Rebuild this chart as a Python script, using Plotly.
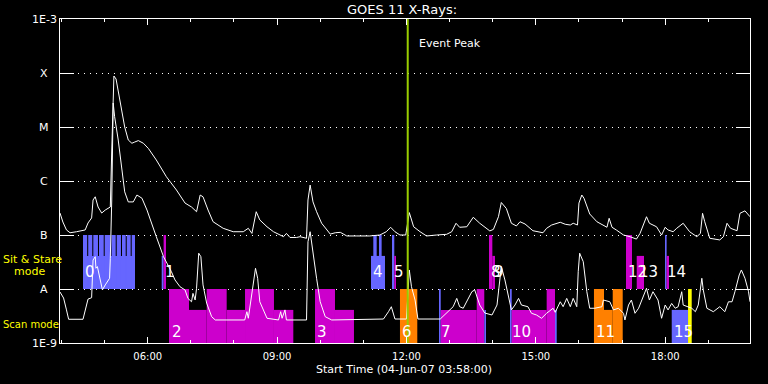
import plotly.graph_objects as go
import numpy as np

DAY = "2007-06-04 "

# ---- GOES 1-8 A (upper) light curve ----
upper_time = ["03:58","04:02","04:07","04:12","04:21","04:33","04:37","04:42","04:44","04:47",
              "04:51","04:56","05:01","05:08","05:10","05:12","05:13","05:16","05:21","05:28",
              "05:33","05:38","05:42","05:47","05:54","06:01","06:12","06:26","06:40","06:52",
              "07:01","07:08","07:13","07:17","07:24","07:31","07:45","07:59","08:13","08:20",
              "08:25","08:31","08:36","08:46","08:55","09:04","09:09","09:13","09:18","09:27",
              "09:32","09:41","09:43","09:46","09:48","09:50","09:55","10:02","10:14","10:21",
              "10:28","10:32","10:37","10:51","11:09","11:23","11:32","11:38","11:44","11:51",
              "11:59","12:04","12:10","12:19","12:28","12:42","12:56","13:03","13:09","13:14",
              "13:24","13:33","13:42","13:56","14:01","14:08","14:12","14:19","14:26","14:33",
              "14:38","14:45","14:56","15:10","15:15","15:22","15:34","15:41","15:48","15:52",
              "15:58","16:00","16:04","16:07","16:15","16:25","16:39","16:42","16:46","16:52",
              "17:02","17:11","17:20","17:25","17:34","17:38","17:48","17:55","18:00","18:04",
              "18:11","18:16","18:25","18:34","18:44","18:49","18:52","18:55","19:02","19:16",
              "19:21","19:26","19:31","19:40","19:44","19:51","19:58"]
upper_flux = [2.55e-7,1.74e-7,1.24e-7,1.10e-7,1.15e-7,1.24e-7,1.67e-7,2.07e-7,4.45e-7,5.1e-7,
              3.3e-7,2.55e-7,2.9e-7,3.3e-7,3.75e-6,4.84e-5,8.8e-5,7.74e-5,3.16e-5,1.0e-5,
              5.74e-6,5.0e-6,5.27e-6,5.6e-6,5.0e-6,4.0e-6,2.45e-6,1.2e-6,6.81e-7,3.9e-7,
              3.3e-7,2.7e-7,5.5e-7,5.1e-7,2.9e-7,1.76e-7,1.33e-7,1.15e-7,1.15e-7,1.33e-7,
              1.07e-7,2.7e-7,1.9e-7,1.42e-7,1.15e-7,1.0e-7,9.3e-8,1.07e-7,9.0e-8,9.0e-8,
              9.3e-8,8.7e-8,4.45e-7,8.4e-7,5.9e-7,4.1e-7,2.7e-7,1.65e-7,1.04e-7,1.1e-7,
              1.12e-7,1.03e-7,9.6e-8,9.6e-8,9.6e-8,1.0e-7,1.15e-7,1.39e-7,1.15e-7,1.0e-7,
              1.0e-7,2.6e-7,1.42e-7,1.15e-7,9.6e-8,1.0e-7,1.03e-7,1.15e-7,1.65e-7,1.39e-7,
              1.42e-7,2.13e-7,1.65e-7,1.19e-7,1.27e-7,2.18e-7,4.0e-7,3.1e-7,1.65e-7,1.47e-7,
              1.76e-7,1.6e-7,1.2e-7,1.1e-7,1.33e-7,1.53e-7,1.72e-7,1.58e-7,1.53e-7,1.65e-7,
              1.53e-7,3.9e-7,5.5e-7,4.8e-7,2.45e-7,1.76e-7,1.39e-7,2.04e-7,1.39e-7,1.24e-7,
              1.0e-7,9.3e-8,8.4e-8,1.07e-7,2.18e-7,1.65e-7,1.42e-7,1.0e-7,1.39e-7,1.24e-7,
              1.15e-7,1.33e-7,1.65e-7,1.15e-7,9.3e-8,1.07e-7,2.52e-7,1.76e-7,8.7e-8,8.1e-8,
              9.3e-8,1.65e-7,1.33e-7,1.2e-7,2.52e-7,2.8e-7,2.18e-7]

# ---- GOES 0.5-4 A (lower) light curve ----
lower_time = ["03:58","04:03","04:07","04:10","04:30","04:35","04:37","04:42","04:43","04:44",
              "04:47","04:48","04:50","04:54","04:57","05:01","05:07","05:08","05:10","05:12",
              "05:14","05:19","05:24","05:28","05:33","05:40","05:45","05:52","05:59","06:06",
              "06:12","06:22","06:26","06:33","06:38","06:45","06:52","06:56","07:01","07:03",
              "07:06","07:08","07:11","07:14","07:17","07:22","07:29","07:34","08:15","08:18",
              "08:20","08:27","08:30","08:33","08:36","08:46","09:02","09:05","09:07","09:11",
              "09:13","09:41","09:43","09:46","09:50","09:55","10:00","10:07","10:16","11:28",
              "11:35","11:39","11:44","12:00","12:04","12:07","12:12","12:16","12:47","13:05",
              "13:10","13:14","13:19","13:24","13:31","13:35","13:42","13:49","13:59","14:06",
              "14:08","14:12","14:17","14:22","14:26","14:31","14:36","14:40","14:49","14:54",
              "15:01","15:08","15:15","15:24","15:27","15:34","15:38","15:43","15:48","15:52",
              "15:57","15:59","16:01","16:06","16:11","16:15","16:22","16:32","16:34","16:43",
              "16:48","16:55","17:02","17:04","17:09","17:13","17:18","17:23","17:30","17:34",
              "17:38","17:43","17:50","17:55","18:00","18:04","18:09","18:14","18:18","18:23",
              "18:25","18:32","18:37","18:42","18:46","18:51","18:53","18:58","19:07","19:16",
              "19:23","19:28","19:33","19:37","19:43","19:46","19:51","19:56","19:58"]
lower_flux = [8.8e-9,6.8e-9,4.1e-9,2.75e-9,2.75e-9,5.05e-9,6.5e-9,6.9e-9,1.69e-8,3.44e-8,
              3.97e-8,2.42e-8,2.6e-8,1.37e-8,9.6e-9,1.19e-8,1.58e-8,3.7e-8,4.45e-7,2.78e-5,
              1.55e-5,5.74e-6,1.84e-6,6.3e-7,4.1e-7,4.1e-7,5.5e-7,4.8e-7,2.9e-7,1.65e-7,
              9.3e-8,3.97e-8,3.16e-8,2.09e-8,1.47e-8,1.1e-8,9.6e-9,6.7e-9,5.8e-9,8.3e-9,
              6.25e-9,1.03e-8,4.6e-8,3.97e-8,1.19e-8,5.5e-9,3.07e-9,2.67e-9,2.67e-9,3.8e-9,
              2.87e-9,1.19e-8,2.42e-8,1.58e-8,5.8e-9,2.87e-9,2.67e-9,3.8e-9,2.87e-9,4.1e-9,
              2.67e-9,2.67e-9,7.5e-8,1.15e-7,4.26e-8,1.58e-8,5.8e-9,3.07e-9,2.67e-9,2.78e-9,
              3.8e-9,4.7e-9,2.78e-9,2.78e-9,2.25e-8,1.1e-8,6.25e-9,2.78e-9,2.78e-9,4.7e-9,
              6.7e-9,4.7e-9,4.4e-9,5.8e-9,8.9e-9,9.6e-9,5.05e-9,3.59e-9,3.3e-9,5.05e-9,
              8.9e-9,2.6e-8,1.47e-8,6.7e-9,4.1e-9,5.05e-9,6.7e-9,5.05e-9,4.7e-9,3.55e-9,
              3.3e-9,2.87e-9,3.55e-9,4.4e-9,3.7e-9,5.8e-9,4.7e-9,6.7e-9,4.7e-9,6.7e-9,
              4.7e-9,2.09e-8,4.6e-8,3.2e-8,8.9e-9,4.4e-9,4.4e-9,4.7e-9,6.25e-9,5.8e-9,
              4.1e-9,4.4e-9,3.55e-9,2.67e-9,5.05e-9,6.25e-9,3.55e-9,4.4e-9,7.74e-9,1.03e-8,
              6.25e-9,8.9e-9,6.25e-9,2.87e-9,5.05e-9,4.1e-9,5.4e-9,4.4e-9,4.7e-9,8.9e-9,
              5.05e-9,4.7e-9,4.4e-9,3.8e-9,5.05e-9,1.58e-8,9.6e-9,4.4e-9,3.8e-9,4.7e-9,
              3.8e-9,5.8e-9,5.8e-9,8.9e-9,1.82e-8,2.25e-8,1.58e-8,8.9e-9,5.8e-9]

# ---- GOES class levels (y axis) ----
class_flux = [1e-9, 1e-8, 1e-7, 1e-6, 1e-5, 1e-4, 1e-3]
class_text = ["1E-9", "A", "B", "C", "M", "X", "1E-3"]

# ---- observing blocks (sit & stare band: 1e-8..1e-7, scan band: 1e-9..1e-8) ----
blk_start = ["04:30:00","04:30:00","04:37:15","04:44:20","04:52:15","05:00:10","05:09:40","05:16:55",
             "05:24:15","05:30:50","05:37:45",
             "06:19:30","06:22:10",
             "11:10:42","11:13:54","11:21:48","11:39:54","11:43:06",
             "13:54:54","13:59:30","17:05:30","17:20:24","17:59:42","18:02:00",
             "06:29:40","06:57:30","07:22:06","07:49:54","08:15:24","08:55:42",
             "09:52:48","10:20:36","11:51:00",
             "12:45:18","12:47:42","13:37:48","13:48:18",
             "14:24:06","14:26:30","15:15:06","15:26:42",
             "16:20:54","16:34:54","16:47:00",
             "18:09:06","18:31:48"]
blk_end = ["05:42:20","04:35:50","04:42:55","04:50:50","04:58:50","05:08:15","05:15:30","05:22:50",
           "05:29:25","05:36:20","05:42:20",
           "06:22:10","06:25:30",
           "11:30:12","11:18:36","11:25:30","11:43:06","11:45:30",
           "13:59:30","14:03:12","17:13:48","17:30:30","18:02:00","18:05:18",
           "06:57:30","07:22:06","07:49:54","08:15:24","08:55:42","09:22:36",
           "10:20:36","10:47:00","12:15:06",
           "12:47:42","13:37:48","13:48:18","13:50:42",
           "14:26:30","15:15:06","15:26:42","15:29:06",
           "16:34:54","16:47:00","17:00:54",
           "18:31:48","18:36:54"]
blk_low = [1e-8]*24 + [1e-9]*22
blk_high = [4.1e-8, 1e-7, 1e-7, 1e-7, 1e-7, 1e-7, 1e-7, 1e-7, 1e-7, 1e-7, 1e-7,
            4.1e-8, 1e-7,
            4.1e-8, 1e-7, 1e-7, 1e-7, 4.1e-8,
            1e-7, 4.1e-8, 1e-7, 4.1e-8, 1e-7, 4.1e-8,
            1e-8, 4.1e-9, 1e-8, 4.1e-9, 1e-8, 4.1e-9,
            1e-8, 4.1e-9, 1e-8,
            1e-8, 4.1e-9, 1e-8, 4.1e-9,
            1e-8, 4.1e-9, 1e-8, 4.1e-9,
            1e-8, 4.1e-9, 1e-8,
            4.1e-9, 1e-8]
blk_color = ["blue"]*11 + ["blue", "magenta"] + ["blue"]*4 + ["magenta"] + \
            ["magenta"]*4 + ["blue", "magenta"] + \
            ["magenta"]*8 + ["orange"] + \
            ["blue", "magenta", "magenta", "blue"] + ["blue", "magenta", "magenta", "blue"] + \
            ["orange"]*3 + ["blue", "yellow"]

# ---- observation numbers ----
label_text = [str(i) for i in range(16)]
label_time = ["04:30:00","06:21:10","06:30:40","09:52:48","11:10:42","11:39:54","11:51:00","12:45:18",
              "13:54:54","13:58:40","14:24:06","16:20:54","17:05:30","17:20:24","17:59:42","18:09:06"]
label_band = ["sit","sit","scan","scan","sit","sit","scan","scan",
              "sit","sit","scan","scan","sit","sit","sit","scan"]

event_time = "12:01:48"

palette = {"blue": "#6666ff", "magenta": "#cc00cc", "orange": "#ff8000", "yellow": "#ffff00"}
FONT = "DejaVu Sans"

# layout geometry (pixels)
W, H = 768, 384
L, R, T, B = 60, 18, 19, 41
PW, PH = W - L - R, H - T - B

def px_x(x):
    return (x - L) / PW

def px_y(y):
    return (H - B - y) / PH

fig = go.Figure()

for s, e, lo, hi, c in zip(blk_start, blk_end, blk_low, blk_high, blk_color):
    fig.add_trace(go.Scatter(
        x=[DAY + s, DAY + e, DAY + e, DAY + s, DAY + s],
        y=[lo, lo, hi, hi, lo],
        mode="lines", fill="toself", fillcolor=palette[c],
        line=dict(width=0, color=palette[c]), hoverinfo="skip", showlegend=False))

fig.add_trace(go.Scatter(x=[DAY + t for t in upper_time], y=upper_flux, mode="lines",
                         line=dict(color="white", width=1), showlegend=False))
fig.add_trace(go.Scatter(x=[DAY + t for t in lower_time], y=lower_flux, mode="lines",
                         line=dict(color="white", width=1), showlegend=False))
fig.add_trace(go.Scatter(x=[DAY + event_time, DAY + event_time], y=[class_flux[0], class_flux[-1]],
                         mode="lines", line=dict(color="#99cc00", width=2), showlegend=False))

ann = []
for v, t in zip(class_flux, class_text):
    ann.append(dict(x=px_x(44), xref="paper", y=np.log10(v), yref="y", text=t, showarrow=False,
                    xanchor="center", yanchor="middle", font=dict(family=FONT, size=11, color="white")))

band_y = {"sit": px_y(272), "scan": px_y(332)}
for txt, t, b in zip(label_text, label_time, label_band):
    ann.append(dict(x=DAY + t, xref="x", y=band_y[b], yref="paper", text=txt, showarrow=False,
                    xanchor="left", yanchor="middle", font=dict(family=FONT, size=15, color="white")))

ann += [
    dict(x=px_x(402), xref="paper", y=px_y(9), yref="paper", text="GOES 11 X-Rays:", showarrow=False,
         xanchor="center", yanchor="middle", font=dict(family=FONT, size=13, color="white")),
    dict(x=px_x(404), xref="paper", y=px_y(369), yref="paper", text="Start Time (04-Jun-07 03:58:00)",
         showarrow=False, xanchor="center", yanchor="middle", font=dict(family=FONT, size=11, color="white")),
    dict(x=DAY + event_time, xref="x", xshift=9, y=px_y(43), yref="paper", text="Event Peak",
         showarrow=False, xanchor="left", yanchor="middle", font=dict(family=FONT, size=11, color="white")),
    dict(x=px_x(1), xref="paper", y=px_y(259), yref="paper", text="Sit &amp; Stare", showarrow=False,
         xanchor="left", yanchor="middle", font=dict(family=FONT, size=11, color="#ffff00")),
    dict(x=px_x(12), xref="paper", y=px_y(271), yref="paper", text="mode", showarrow=False,
         xanchor="left", yanchor="middle", font=dict(family=FONT, size=11, color="#ffff00")),
    dict(x=px_x(1), xref="paper", y=px_y(324), yref="paper", text="Scan mode", showarrow=False,
         xanchor="left", yanchor="middle", font=dict(family=FONT, size=10, color="#ffff00")),
]

fig.update_layout(
    width=W, height=H, margin=dict(l=L, r=R, t=T, b=B),
    paper_bgcolor="black", plot_bgcolor="black",
    showlegend=False, annotations=ann,
    xaxis=dict(type="date", range=[DAY + "03:58", DAY + "19:58"],
               tick0=DAY + "00:00", dtick=3 * 3600000, tickformat="%H:%M",
               ticks="inside", ticklen=6, tickwidth=1, tickcolor="white",
               showline=True, linecolor="white", linewidth=1, mirror="ticks",
               showgrid=False, zeroline=False, ticklabelstandoff=4,
               tickfont=dict(family=FONT, size=10, color="white"),
               minor=dict(tick0=DAY + "00:00", dtick=3600000, ticks="inside", ticklen=3,
                          tickwidth=1, tickcolor="white", showgrid=False)),
    yaxis=dict(type="log", range=[-9, -3], tickmode="array", tickvals=class_flux,
               showticklabels=False, ticks="inside", ticklen=14, tickwidth=1, tickcolor="white",
               showline=True, linecolor="white", linewidth=1, mirror="ticks",
               showgrid=True, gridcolor="white", gridwidth=1, griddash="1px,5px", zeroline=False),
)

fig.write_html("out.html")
